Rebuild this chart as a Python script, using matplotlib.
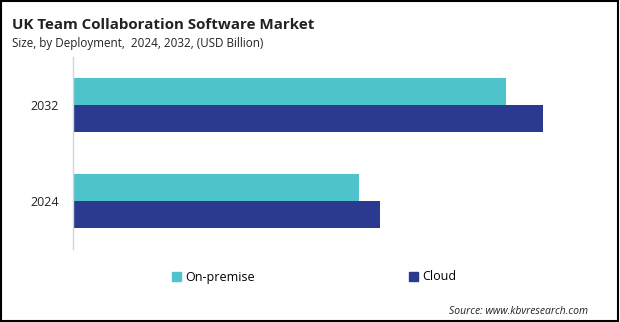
import numpy as np
import matplotlib.pyplot as plt
from matplotlib.patches import Rectangle, Patch

years = ['2024', '2032']
on_premise = [1.43, 2.165]
cloud = [1.535, 2.35]

TEAL = '#4fc3cc'
NAVY = '#2b3990'

plt.rcParams['font.family'] = ['Open Sans', 'DejaVu Sans']

fig = plt.figure(figsize=(6.2, 3.22), dpi=100)
W, H = 620, 322
ax = fig.add_axes([73 / W, (H - 249) / H, (600 - 73) / W, (249 - 57) / H])

y = np.arange(len(years))
h = 0.28
ax.barh(y + h / 2, on_premise, height=h, color=TEAL, label='On-premise')
ax.barh(y - h / 2, cloud, height=h, color=NAVY, label='Cloud')

ax.set_xlim(0, 527 / 200)
ax.set_ylim(-0.5, 1.5)
ax.set_yticks(y)
ax.set_yticklabels(years, fontsize=9, color='#222222')
ax.set_xticks([])
ax.tick_params(axis='y', length=0, pad=10)
for side in ('top', 'right', 'bottom'):
    ax.spines[side].set_visible(False)
ax.spines['left'].set_color('#d4d4d4')
ax.spines['left'].set_linewidth(1.0)

fig.text(12 / W, 1 - 29 / H, 'UK Team Collaboration Software Market',
         fontsize=10.9, fontweight='bold', color='#222222')
fig.text(12 / W, 1 - 47 / H, 'Size, by Deployment,  2024, 2032, (USD Billion)',
         fontsize=8.4, color='#222222')

handles = [Patch(color=TEAL), Patch(color=NAVY)]
fig.legend(handles, ['On-premise', 'Cloud'], loc='center',
           bbox_to_anchor=(314 / W, 1 - 277 / H), ncol=2, frameon=False,
           fontsize=9, handlelength=0.75, handleheight=0.75,
           handletextpad=0.35, columnspacing=12.3)

fig.text(588 / W, 1 - 314 / H, 'Source: www.kbvresearch.com',
         fontsize=7.5, style='italic', ha='right', color='#222222')

fig.patches.append(Rectangle((0.0015, 0.003), 0.996, 0.994, transform=fig.transFigure,
                             fill=False, edgecolor='black', linewidth=1.5))

fig.savefig('out.png', dpi=100)
